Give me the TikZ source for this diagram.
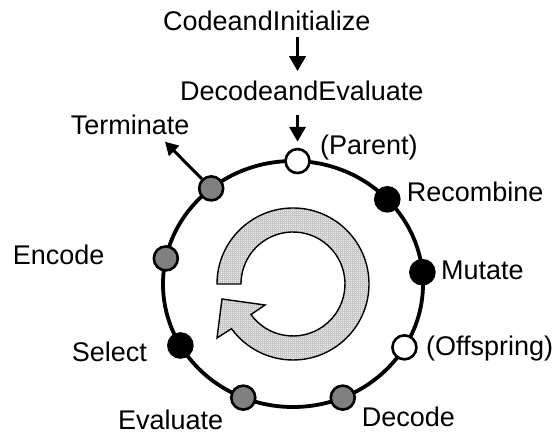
\documentclass[tikz,border=0pt]{standalone}
\usepackage{fontspec}
\setmainfont{Liberation Sans}
\usetikzlibrary{arrows.meta,calc,patterns.meta}
\begin{document}
\begin{tikzpicture}[x=1pt,y=1pt,
  lbl/.style={anchor=base west,inner sep=0pt,font=\fontsize{27}{32}\selectfont},
  stage/.style={circle,draw=black,line width=2.6pt,minimum size=24pt,inner sep=0pt},
  wstage/.style={stage,fill=white},
  bstage/.style={stage,fill=black},
  gstage/.style={stage,fill=gray},
  flow/.style={line width=3.6pt,-{Triangle[width=16pt,length=15pt]}},
  exitflow/.style={line width=3pt,-{Triangle[width=14pt,length=13pt]}},
  ring/.style={line width=1.4pt,line join=miter}]
\useasboundingbox (0,0) rectangle (554,435);

% the generation cycle
\coordinate (o) at (293,151);
\draw[line width=3.8pt] (o) ellipse [x radius=130pt, y radius=123pt];

% stages placed round the cycle
\node[wstage] (par) at ($(o)+(88:130pt and 123pt)$) {};
\node[bstage] (rec) at ($(o)+(43.5:130pt and 123pt)$) {};
\node[bstage] (mut) at ($(o)+(5.5:130pt and 123pt)$) {};
\node[wstage] (off) at ($(o)+(-31:130pt and 123pt)$) {};
\node[gstage] (dcd) at ($(o)+(-67.5:130pt and 123pt)$) {};
\node[gstage] (evl) at ($(o)+(-112.5:130pt and 123pt)$) {};
\node[bstage] (sel) at ($(o)+(210:130pt and 123pt)$) {};
\node[gstage] (enc) at ($(o)+(168:130pt and 123pt)$) {};
\node[gstage] (trm) at ($(o)+(129:130pt and 123pt)$) {};

% circular arrow in the middle
\def\cyclearrow{(o) ++(180:76) arc[start angle=180,end angle=-144,radius=76]
  -- (217,97) -- (222,136) -- (265,130)
  -- ($(o)+(-144:52)$) arc[start angle=-144,end angle=180,radius=52] -- cycle}
\fill[gray!12] \cyclearrow;
\fill[pattern={Hatch[distance=2pt,line width=0.45pt]},pattern color=gray!45] \cyclearrow;
\draw[ring] \cyclearrow;

% labels
\node[lbl] (tcode) at (163,404) {CodeandInitialize};
\node[lbl] (tdec) at (180,334) {DecodeandEvaluate};
\node[lbl] (tpar) at (320,280) {(Parent)};
\node[lbl] (trec) at (406.7,233.5) {Recombine};
\node[lbl] (tmut) at (441,155) {Mutate};
\node[lbl] (toff) at (426,79) {(Offspring)};
\node[lbl] (tdcd) at (361.7,8.5) {Decode};
\node[lbl] (tevl) at (118,5) {Evaluate};
\node[lbl] (tsel) at (71.7,73.5) {Select};
\node[lbl] (tenc) at (12.7,170) {Encode};
\node[lbl] (ttrm) at (70.7,300) {Terminate};

% entry arrows and exit arrow
\draw[flow] ([yshift=-6pt]tcode.south -| par) -- ([yshift=10pt]tdec.north -| par);
\draw[flow] ([yshift=-14pt]tdec.south -| par) -- ([yshift=6pt]par.north);
\coordinate (texit) at (165,293.3);
\draw[exitflow] (trm) -- (texit);
\end{tikzpicture}
\end{document}
